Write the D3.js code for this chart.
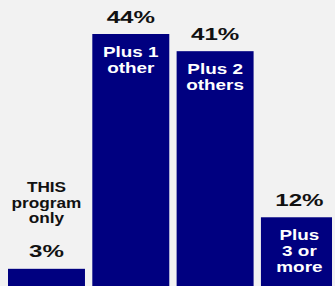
<!DOCTYPE html>
<html>
<head>
<meta charset="utf-8">
<script src="https://cdn.jsdelivr.net/npm/d3@7"></script>
<style>
  body { margin: 0; background: #f2f2f2; }
  svg { display: block; }
</style>
</head>
<body>
<div class="chart"></div>
<script>
const categories = ["only", "plus1", "plus2", "plus3"]
const values = [3, 44, 41, 12]
const valueLabels = ["3%", "44%", "41%", "12%"]
const innerLabels = [[], ["Plus 1", "other"], ["Plus 2", "others"], ["Plus", "3 or", "more"]]
const outerLabels = [["THIS", "program", "only"], [], [], []]

const colors = {
  background: "#f2f2f2",
  bar: "#000080",
  text: "#111111",
  inner: "#ffffff"
}

const dims = {
  width: 335,
  height: 286,
  margin: { top: 34, right: 3, bottom: 0, left: 8 }
}

const data = categories.map((c, i) => ({
  key: c,
  value: values[i],
  label: valueLabels[i],
  inner: innerLabels[i],
  outer: outerLabels[i]
}))

const xScale = d3.scaleBand()
  .domain(categories)
  .range([dims.margin.left, dims.margin.left + 84.3 * 3 + 77])
  .paddingInner(0.087)
  .paddingOuter(0)

const yScale = d3.scaleLinear()
  .domain([0, 44])
  .range([dims.height - dims.margin.bottom, dims.margin.top])

const svg = d3.select(".chart").append("svg")
    .attr("width", dims.width)
    .attr("height", dims.height)
    .style("font-family", "'Liberation Sans', Arial, sans-serif")
    .style("font-weight", "bold")

svg.append("rect")
    .attr("width", dims.width)
    .attr("height", dims.height)
    .attr("fill", colors.background)

// right edge of the last bar is cut off in the original
svg.append("clipPath")
    .attr("id", "plot-clip")
  .append("rect")
    .attr("width", dims.width - dims.margin.right)
    .attr("height", dims.height)

const groups = svg.append("g")
    .attr("clip-path", "url(#plot-clip)")
  .selectAll(".bar-group")
  .data(data)
  .join("g")
    .attr("class", "bar-group")

groups.append("rect")
    .attr("x", d => xScale(d.key))
    .attr("y", d => yScale(d.value))
    .attr("width", xScale.bandwidth())
    .attr("height", d => yScale(0) - yScale(d.value))
    .attr("fill", colors.bar)

const cx = d => xScale(d.key) + xScale.bandwidth() / 2

// the original type is set wide, so stretch it horizontally
groups.append("text")
    .attr("transform", d => `translate(${cx(d)},${yScale(d.value) - 11.5}) scale(1.42,1)`)
    .attr("text-anchor", "middle")
    .attr("fill", colors.text)
    .style("font-size", "17px")
    .text(d => d.label)

groups.selectAll(".inner")
  .data(d => d.inner.map((t, j) => ({ t, j, d })))
  .join("text")
    .attr("class", "inner")
    .attr("transform", e => `translate(${cx(e.d)},${yScale(e.d.value) + 23 + e.j * 16}) scale(1.35,1)`)
    .attr("text-anchor", "middle")
    .attr("fill", colors.inner)
    .style("font-size", "14px")
    .text(e => e.t)

groups.selectAll(".outer")
  .data(d => d.outer.map((t, j) => ({ t, j, n: d.outer.length, d })))
  .join("text")
    .attr("class", "outer")
    .attr("transform", e => `translate(${cx(e.d)},${yScale(e.d.value) - 45.5 - (e.n - 1 - e.j) * 15.7}) scale(1.23,1)`)
    .attr("text-anchor", "middle")
    .attr("fill", colors.text)
    .style("font-size", "14px")
    .text(e => e.t)
</script>
</body>
</html>
